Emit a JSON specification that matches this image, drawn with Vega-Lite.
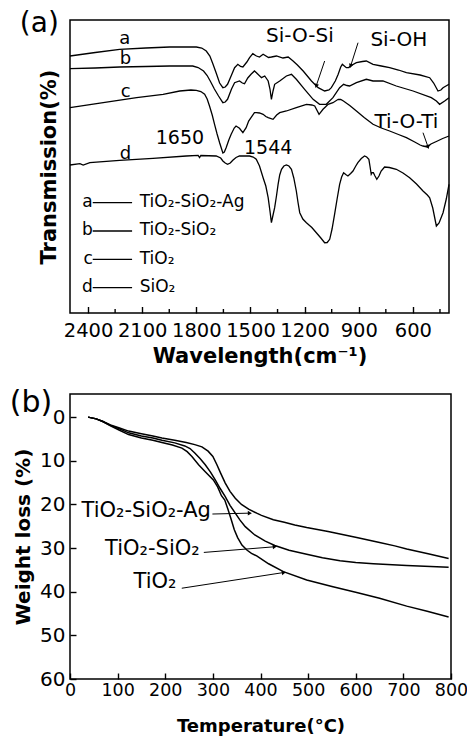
{
  "$schema": "https://vega.github.io/schema/vega-lite/v6.json",
  "padding": {"left": 8, "top": 9, "right": 0, "bottom": 0},
  "config": {
    "font": "DejaVu Sans",
    "view": {"stroke": "black", "strokeWidth": 1.5},
    "axis": {"domain": false, "grid": false, "labelFont": "DejaVu Sans", "titleFont": "DejaVu Sans", "labelColor": "black", "titleColor": "black", "tickColor": "black", "tickWidth": 1.4, "titleFontWeight": "bold", "labelOverlap": false, "labelFlush": false},
    "text": {"font": "DejaVu Sans", "color": "black"},
    "concat": {"spacing": 20}
  },
  "datasets": {
    "ftir": [
      {"s":"a","x":2500,"y":257},{"s":"a","x":2360,"y":260.5},{"s":"a","x":2225,"y":263.7},{"s":"a","x":2080,"y":265},{"s":"a","x":1948,"y":266},{"s":"a","x":1800,"y":266},{"s":"a","x":1770,"y":265},{"s":"a","x":1745,"y":262},{"s":"a","x":1725,"y":257},{"s":"a","x":1708,"y":249},{"s":"a","x":1690,"y":240},{"s":"a","x":1671,"y":230},{"s":"a","x":1653,"y":225.3},{"s":"a","x":1640,"y":226},{"s":"a","x":1627,"y":228.7},{"s":"a","x":1605,"y":238},{"s":"a","x":1588,"y":245.3},{"s":"a","x":1570,"y":248.7},{"s":"a","x":1555,"y":246.5},{"s":"a","x":1542,"y":246},{"s":"a","x":1520,"y":251},{"s":"a","x":1505,"y":255.3},{"s":"a","x":1487,"y":259.3},{"s":"a","x":1467,"y":257},{"s":"a","x":1450,"y":256},{"s":"a","x":1430,"y":258.7},{"s":"a","x":1400,"y":255.5},{"s":"a","x":1384,"y":256},{"s":"a","x":1356,"y":257},{"s":"a","x":1320,"y":255},{"s":"a","x":1291,"y":256},{"s":"a","x":1264,"y":252},{"s":"a","x":1240,"y":248},{"s":"a","x":1208,"y":242},{"s":"a","x":1162,"y":232},{"s":"a","x":1125,"y":225.3},{"s":"a","x":1089,"y":222},{"s":"a","x":1065,"y":223},{"s":"a","x":1052,"y":225.3},{"s":"a","x":1030,"y":232},{"s":"a","x":1014,"y":238.7},{"s":"a","x":1000,"y":246},{"s":"a","x":991,"y":248.7},{"s":"a","x":980,"y":247},{"s":"a","x":969,"y":245.3},{"s":"a","x":955,"y":245.5},{"s":"a","x":947,"y":247},{"s":"a","x":913,"y":250.3},{"s":"a","x":880,"y":251.5},{"s":"a","x":858,"y":252},{"s":"a","x":821,"y":248.7},{"s":"a","x":775,"y":247},{"s":"a","x":729,"y":245.3},{"s":"a","x":680,"y":243},{"s":"a","x":636,"y":240.3},{"s":"a","x":560,"y":238},{"s":"a","x":507,"y":235.3},{"s":"a","x":485,"y":230},{"s":"a","x":461,"y":222},{"s":"a","x":445,"y":223},{"s":"a","x":433,"y":225.3},{"s":"a","x":400,"y":228.7},
      {"s":"b","x":2500,"y":244.3},{"s":"b","x":2360,"y":245},{"s":"b","x":2225,"y":246},{"s":"b","x":2080,"y":246.5},{"s":"b","x":1948,"y":247},{"s":"b","x":1820,"y":247},{"s":"b","x":1790,"y":245.5},{"s":"b","x":1760,"y":242},{"s":"b","x":1740,"y":237.5},{"s":"b","x":1723,"y":232},{"s":"b","x":1700,"y":224},{"s":"b","x":1677,"y":217},{"s":"b","x":1653,"y":210.3},{"s":"b","x":1640,"y":211},{"s":"b","x":1627,"y":213.7},{"s":"b","x":1605,"y":224},{"s":"b","x":1588,"y":230.3},{"s":"b","x":1561,"y":232},{"s":"b","x":1545,"y":230},{"s":"b","x":1533,"y":229.3},{"s":"b","x":1515,"y":235},{"s":"b","x":1497,"y":238.7},{"s":"b","x":1478,"y":242},{"s":"b","x":1467,"y":240.3},{"s":"b","x":1439,"y":235.3},{"s":"b","x":1421,"y":237},{"s":"b","x":1402,"y":232},{"s":"b","x":1392,"y":224},{"s":"b","x":1384,"y":213.7},{"s":"b","x":1375,"y":222},{"s":"b","x":1366,"y":228.7},{"s":"b","x":1338,"y":232},{"s":"b","x":1301,"y":237},{"s":"b","x":1273,"y":238.7},{"s":"b","x":1246,"y":233.7},{"s":"b","x":1200,"y":223.7},{"s":"b","x":1153,"y":213.7},{"s":"b","x":1117,"y":208.7},{"s":"b","x":1080,"y":208.7},{"s":"b","x":1043,"y":215.3},{"s":"b","x":1006,"y":225.3},{"s":"b","x":984,"y":228.7},{"s":"b","x":965,"y":227.5},{"s":"b","x":951,"y":227},{"s":"b","x":913,"y":230.3},{"s":"b","x":858,"y":233.7},{"s":"b","x":821,"y":232},{"s":"b","x":766,"y":232},{"s":"b","x":692,"y":227},{"s":"b","x":599,"y":222},{"s":"b","x":498,"y":215.3},{"s":"b","x":470,"y":212},{"s":"b","x":452,"y":208.7},{"s":"b","x":424,"y":212},{"s":"b","x":400,"y":215.3},
      {"s":"c","x":2500,"y":205.3},{"s":"c","x":2316,"y":210.3},{"s":"c","x":2131,"y":215.3},{"s":"c","x":1984,"y":218.7},{"s":"c","x":1892,"y":222},{"s":"c","x":1830,"y":223},{"s":"c","x":1800,"y":222.7},{"s":"c","x":1775,"y":221.5},{"s":"c","x":1754,"y":218.7},{"s":"c","x":1740,"y":214},{"s":"c","x":1727,"y":207},{"s":"c","x":1712,"y":198},{"s":"c","x":1699,"y":188.7},{"s":"c","x":1685,"y":179},{"s":"c","x":1671,"y":170.3},{"s":"c","x":1660,"y":164},{"s":"c","x":1653,"y":160},{"s":"c","x":1645,"y":161},{"s":"c","x":1635,"y":165.3},{"s":"c","x":1620,"y":173},{"s":"c","x":1607,"y":178.7},{"s":"c","x":1590,"y":185},{"s":"c","x":1580,"y":187},{"s":"c","x":1561,"y":184.7},{"s":"c","x":1542,"y":180.3},{"s":"c","x":1524,"y":185.3},{"s":"c","x":1510,"y":192},{"s":"c","x":1497,"y":195.3},{"s":"c","x":1478,"y":200.3},{"s":"c","x":1467,"y":200.3},{"s":"c","x":1450,"y":200},{"s":"c","x":1430,"y":198.7},{"s":"c","x":1415,"y":196.5},{"s":"c","x":1402,"y":195.3},{"s":"c","x":1375,"y":193.7},{"s":"c","x":1355,"y":198},{"s":"c","x":1338,"y":200.3},{"s":"c","x":1301,"y":202},{"s":"c","x":1246,"y":205.3},{"s":"c","x":1190,"y":208.7},{"s":"c","x":1160,"y":208},{"s":"c","x":1144,"y":207},{"s":"c","x":1120,"y":198.7},{"s":"c","x":1098,"y":203.7},{"s":"c","x":1085,"y":206},{"s":"c","x":1070,"y":208.7},{"s":"c","x":1043,"y":210.3},{"s":"c","x":1014,"y":213.7},{"s":"c","x":1000,"y":213.5},{"s":"c","x":985,"y":212},{"s":"c","x":950,"y":207.5},{"s":"c","x":913,"y":202},{"s":"c","x":870,"y":195.5},{"s":"c","x":821,"y":188.7},{"s":"c","x":775,"y":185},{"s":"c","x":729,"y":182},{"s":"c","x":680,"y":178.5},{"s":"c","x":636,"y":175.3},{"s":"c","x":590,"y":171},{"s":"c","x":560,"y":168},{"s":"c","x":544,"y":167},{"s":"c","x":520,"y":166},{"s":"c","x":500,"y":169},{"s":"c","x":470,"y":171.5},{"s":"c","x":435,"y":174.5},{"s":"c","x":400,"y":177},
      {"s":"d","x":2500,"y":148},{"s":"d","x":2445,"y":149.3},{"s":"d","x":2427,"y":148},{"s":"d","x":2390,"y":150.3},{"s":"d","x":2225,"y":152.7},{"s":"d","x":2040,"y":154.7},{"s":"d","x":1856,"y":157},{"s":"d","x":1790,"y":157.7},{"s":"d","x":1782,"y":155.5},{"s":"d","x":1775,"y":157.5},{"s":"d","x":1690,"y":157},{"s":"d","x":1665,"y":155},{"s":"d","x":1653,"y":152},{"s":"d","x":1640,"y":150},{"s":"d","x":1627,"y":148.7},{"s":"d","x":1612,"y":150},{"s":"d","x":1598,"y":152.7},{"s":"d","x":1580,"y":155.5},{"s":"d","x":1561,"y":157},{"s":"d","x":1505,"y":157},{"s":"d","x":1485,"y":156},{"s":"d","x":1468,"y":153.7},{"s":"d","x":1450,"y":147},{"s":"d","x":1430,"y":135.3},{"s":"d","x":1415,"y":127},{"s":"d","x":1402,"y":115.3},{"s":"d","x":1392,"y":102},{"s":"d","x":1384,"y":90.3},{"s":"d","x":1375,"y":98},{"s":"d","x":1366,"y":105.3},{"s":"d","x":1356,"y":117},{"s":"d","x":1347,"y":128.7},{"s":"d","x":1338,"y":138},{"s":"d","x":1328,"y":143.7},{"s":"d","x":1315,"y":147},{"s":"d","x":1301,"y":148},{"s":"d","x":1287,"y":147},{"s":"d","x":1273,"y":143.7},{"s":"d","x":1260,"y":135},{"s":"d","x":1246,"y":122},{"s":"d","x":1237,"y":111},{"s":"d","x":1227,"y":100.3},{"s":"d","x":1210,"y":94},{"s":"d","x":1190,"y":90.3},{"s":"d","x":1160,"y":85.5},{"s":"d","x":1135,"y":80.3},{"s":"d","x":1110,"y":75},{"s":"d","x":1089,"y":70.3},{"s":"d","x":1075,"y":70.5},{"s":"d","x":1061,"y":73.7},{"s":"d","x":1048,"y":84},{"s":"d","x":1034,"y":98.7},{"s":"d","x":1020,"y":114},{"s":"d","x":1006,"y":128.7},{"s":"d","x":995,"y":136},{"s":"d","x":984,"y":140.3},{"s":"d","x":972,"y":138.5},{"s":"d","x":960,"y":137},{"s":"d","x":945,"y":139.5},{"s":"d","x":932,"y":142},{"s":"d","x":918,"y":146.5},{"s":"d","x":905,"y":150.3},{"s":"d","x":886,"y":154.5},{"s":"d","x":868,"y":157},{"s":"d","x":856,"y":156},{"s":"d","x":844,"y":153.7},{"s":"d","x":838,"y":147},{"s":"d","x":831,"y":138.7},{"s":"d","x":826,"y":140.3},{"s":"d","x":819,"y":140.3},{"s":"d","x":810,"y":137},{"s":"d","x":800,"y":133.7},{"s":"d","x":788,"y":137},{"s":"d","x":776,"y":142},{"s":"d","x":757,"y":146},{"s":"d","x":730,"y":145.5},{"s":"d","x":692,"y":143.7},{"s":"d","x":655,"y":140},{"s":"d","x":618,"y":135.3},{"s":"d","x":580,"y":129},{"s":"d","x":544,"y":122},{"s":"d","x":520,"y":118},{"s":"d","x":507,"y":115.3},{"s":"d","x":490,"y":105},{"s":"d","x":470,"y":87},{"s":"d","x":455,"y":90},{"s":"d","x":433,"y":100.3},{"s":"d","x":415,"y":114},{"s":"d","x":400,"y":128.7}
    ],
    "tga": [
      {"s":"ag","x":38,"y":0},{"s":"ag","x":55,"y":0.4},{"s":"ag","x":69,"y":1.0},{"s":"ag","x":85,"y":1.8},{"s":"ag","x":104,"y":2.5},{"s":"ag","x":123,"y":3.2},{"s":"ag","x":150,"y":3.8},{"s":"ag","x":174,"y":4.3},{"s":"ag","x":193,"y":4.8},{"s":"ag","x":220,"y":5.3},{"s":"ag","x":244,"y":5.8},{"s":"ag","x":262,"y":6.3},{"s":"ag","x":277,"y":6.8},{"s":"ag","x":290,"y":7.8},{"s":"ag","x":300,"y":9.0},{"s":"ag","x":308,"y":10.8},{"s":"ag","x":317,"y":13.0},{"s":"ag","x":326,"y":15.1},{"s":"ag","x":336,"y":17.0},{"s":"ag","x":347,"y":18.6},{"s":"ag","x":360,"y":20.0},{"s":"ag","x":375,"y":21.1},{"s":"ag","x":392,"y":22.0},{"s":"ag","x":402,"y":22.5},{"s":"ag","x":427,"y":23.5},{"s":"ag","x":450,"y":24.1},{"s":"ag","x":472,"y":24.7},{"s":"ag","x":497,"y":25.3},{"s":"ag","x":542,"y":26.2},{"s":"ag","x":602,"y":27.6},{"s":"ag","x":650,"y":28.7},{"s":"ag","x":682,"y":29.5},{"s":"ag","x":707,"y":30.2},{"s":"ag","x":752,"y":31.3},{"s":"ag","x":795,"y":32.4},
      {"s":"ts","x":38,"y":0},{"s":"ts","x":55,"y":0.4},{"s":"ts","x":69,"y":1.0},{"s":"ts","x":85,"y":1.9},{"s":"ts","x":104,"y":2.7},{"s":"ts","x":123,"y":3.6},{"s":"ts","x":150,"y":4.3},{"s":"ts","x":174,"y":4.8},{"s":"ts","x":193,"y":5.3},{"s":"ts","x":220,"y":5.9},{"s":"ts","x":241,"y":6.6},{"s":"ts","x":252,"y":7.2},{"s":"ts","x":262,"y":8.2},{"s":"ts","x":273,"y":9.5},{"s":"ts","x":284,"y":10.9},{"s":"ts","x":295,"y":12.6},{"s":"ts","x":305,"y":14.4},{"s":"ts","x":315,"y":16.3},{"s":"ts","x":326,"y":18.2},{"s":"ts","x":336,"y":20.2},{"s":"ts","x":347,"y":22.0},{"s":"ts","x":357,"y":23.6},{"s":"ts","x":368,"y":25.1},{"s":"ts","x":388,"y":27.0},{"s":"ts","x":410,"y":28.4},{"s":"ts","x":430,"y":29.4},{"s":"ts","x":460,"y":30.5},{"s":"ts","x":497,"y":31.4},{"s":"ts","x":530,"y":32.2},{"s":"ts","x":567,"y":32.9},{"s":"ts","x":600,"y":33.3},{"s":"ts","x":637,"y":33.6},{"s":"ts","x":707,"y":34.0},{"s":"ts","x":795,"y":34.4},
      {"s":"t","x":38,"y":0},{"s":"t","x":55,"y":0.4},{"s":"t","x":69,"y":1.0},{"s":"t","x":85,"y":2.0},{"s":"t","x":104,"y":3.0},{"s":"t","x":123,"y":4.0},{"s":"t","x":150,"y":4.8},{"s":"t","x":174,"y":5.3},{"s":"t","x":193,"y":5.8},{"s":"t","x":215,"y":6.4},{"s":"t","x":235,"y":7.1},{"s":"t","x":246,"y":7.9},{"s":"t","x":256,"y":9.0},{"s":"t","x":270,"y":10.9},{"s":"t","x":284,"y":12.5},{"s":"t","x":301,"y":14.4},{"s":"t","x":310,"y":16.0},{"s":"t","x":318,"y":18.0},{"s":"t","x":325,"y":19.0},{"s":"t","x":332,"y":21.2},{"s":"t","x":338,"y":23.3},{"s":"t","x":345,"y":25.8},{"s":"t","x":352,"y":27.6},{"s":"t","x":361,"y":29.3},{"s":"t","x":372,"y":30.5},{"s":"t","x":381,"y":31.2},{"s":"t","x":392,"y":31.8},{"s":"t","x":417,"y":33.6},{"s":"t","x":448,"y":35.4},{"s":"t","x":497,"y":37.3},{"s":"t","x":550,"y":38.8},{"s":"t","x":602,"y":40.2},{"s":"t","x":650,"y":41.5},{"s":"t","x":707,"y":43.3},{"s":"t","x":750,"y":44.5},{"s":"t","x":795,"y":45.8}
    ],
    "minorA": [{"x":2250},{"x":1950},{"x":1650},{"x":1350},{"x":1050},{"x":750},{"x":450}],
    "lettersA": [
      {"t":"a","x":2196,"y":268.7},{"t":"b","x":2192,"y":249},{"t":"c","x":2192,"y":216},{"t":"d","x":2192,"y":154}
    ],
    "peaksA": [
      {"t":"Si-O-Si","x":1226,"y":271.3},{"t":"Si-OH","x":678,"y":267},{"t":"Ti-O-Ti","x":636,"y":185.3}
    ],
    "numsA": [
      {"t":"1650","x":1891,"y":168.7},{"t":"1544","x":1402,"y":158.7}
    ],
    "legendA": [
      {"k":"a","name":"TiO₂-SiO₂-Ag","x":2374,"x2":2156,"xt":2114,"y":110.3,"yt":106},
      {"k":"b","name":"TiO₂-SiO₂","x":2374,"x2":2156,"xt":2114,"y":82,"yt":77.7},
      {"k":"c","name":"TiO₂","x":2374,"x2":2156,"xt":2114,"y":53.7,"yt":49.3},
      {"k":"d","name":"SiO₂","x":2374,"x2":2156,"xt":2114,"y":25.3,"yt":21}
    ],
    "arrowsA": [
      {"id":"sios","x":1089,"y":252,"x2":1136,"y2":227},
      {"id":"sioh","x":904,"y":270.3,"x2":945,"y2":247},
      {"id":"tioti","x":544,"y":180.3,"x2":516,"y2":166}
    ],
    "arrowsB": [
      {"id":"ag","x":299,"y":22.2,"x2":377.6,"y2":22.0},
      {"id":"ts","x":281,"y":31.0,"x2":430,"y2":29.7},
      {"id":"t","x":234.7,"y":39.2,"x2":449,"y2":35.6}
    ],
    "labelsB": [
      {"t":"TiO₂-SiO₂-Ag","x":160,"y":22.8},{"t":"TiO₂-SiO₂","x":173,"y":31.6},{"t":"TiO₂","x":178.5,"y":39.2}
    ],
    "panelA": [{"t":"(a)","x":2778,"y":281}],
    "panelB": [{"t":"(b)","x":-126.6,"y":-1.2}]
  },
  "vconcat": [
    {
      "width": 379,
      "height": 293,
      "layer": [
        {
          "data": {"name": "ftir"},
          "mark": {"type": "line", "color": "black", "strokeWidth": 1.3},
          "encoding": {
            "x": {"field": "x", "type": "quantitative", "scale": {"domain": [400, 2500], "reverse": true, "nice": false, "zero": false},
              "axis": {"title": "Wavelength(cm⁻¹)", "titleFontSize": 21, "titlePadding": 5, "labelFontSize": 19.5, "labelPadding": 15, "format": "d",
                "values": [2400, 2100, 1800, 1500, 1200, 900, 600], "tickSize": -6.5}},
            "y": {"field": "y", "type": "quantitative", "scale": {"domain": [0, 293], "nice": false, "zero": false},
              "axis": {"title": "Transmission(%)", "titleFontSize": 21, "labels": false, "ticks": false, "titlePadding": 11}},
            "detail": {"field": "s"}
          }
        },
        {
          "data": {"name": "minorA"},
          "mark": {"type": "rule", "color": "black", "strokeWidth": 1.4},
          "encoding": {"x": {"field": "x", "type": "quantitative"}, "y": {"datum": 0}, "y2": {"datum": 4}}
        },
        {
          "data": {"name": "lettersA"},
          "mark": {"type": "text", "fontSize": 18, "align": "center", "baseline": "alphabetic"},
          "encoding": {"x": {"field": "x", "type": "quantitative"}, "y": {"field": "y", "type": "quantitative"}, "text": {"field": "t"}}
        },
        {
          "data": {"name": "peaksA"},
          "mark": {"type": "text", "fontSize": 20, "align": "center", "baseline": "alphabetic"},
          "encoding": {"x": {"field": "x", "type": "quantitative"}, "y": {"field": "y", "type": "quantitative"}, "text": {"field": "t"}}
        },
        {
          "data": {"name": "numsA"},
          "mark": {"type": "text", "fontSize": 19, "align": "center", "baseline": "alphabetic"},
          "encoding": {"x": {"field": "x", "type": "quantitative"}, "y": {"field": "y", "type": "quantitative"}, "text": {"field": "t"}}
        },
        {
          "data": {"name": "legendA"},
          "mark": {"type": "rule", "color": "black", "strokeWidth": 1.3},
          "encoding": {"x": {"field": "x", "type": "quantitative"}, "x2": {"field": "x2"}, "y": {"field": "y", "type": "quantitative"}}
        },
        {
          "data": {"name": "legendA"},
          "mark": {"type": "text", "fontSize": 17, "align": "right", "baseline": "alphabetic"},
          "encoding": {"x": {"field": "x", "type": "quantitative"}, "y": {"field": "yt", "type": "quantitative"}, "text": {"field": "k"}}
        },
        {
          "data": {"name": "legendA"},
          "mark": {"type": "text", "fontSize": 17, "align": "left", "baseline": "alphabetic"},
          "encoding": {"x": {"field": "xt", "type": "quantitative"}, "y": {"field": "yt", "type": "quantitative"}, "text": {"field": "name"}}
        },
        {
          "data": {"name": "arrowsA"},
          "mark": {"type": "rule", "color": "black", "strokeWidth": 1},
          "encoding": {"x": {"field": "x", "type": "quantitative"}, "y": {"field": "y", "type": "quantitative"}, "x2": {"field": "x2"}, "y2": {"field": "y2"}}
        },
        {
          "data": {"name": "arrowsA"},
          "transform": [{"filter": "datum.id === 'sios'"}],
          "mark": {"type": "point", "shape": "triangle-down", "filled": true, "color": "black", "size": 22, "angle": 18, "opacity": 1},
          "encoding": {"x": {"field": "x2", "type": "quantitative"}, "y": {"field": "y2", "type": "quantitative"}}
        },
        {
          "data": {"name": "arrowsA"},
          "transform": [{"filter": "datum.id === 'sioh'"}],
          "mark": {"type": "point", "shape": "triangle-down", "filled": true, "color": "black", "size": 22, "angle": 18, "opacity": 1},
          "encoding": {"x": {"field": "x2", "type": "quantitative"}, "y": {"field": "y2", "type": "quantitative"}}
        },
        {
          "data": {"name": "arrowsA"},
          "transform": [{"filter": "datum.id === 'tioti'"}],
          "mark": {"type": "point", "shape": "triangle-down", "filled": true, "color": "black", "size": 22, "angle": 341, "opacity": 1},
          "encoding": {"x": {"field": "x2", "type": "quantitative"}, "y": {"field": "y2", "type": "quantitative"}}
        },
        {
          "data": {"name": "panelA"},
          "mark": {"type": "text", "fontSize": 28, "align": "left", "baseline": "alphabetic"},
          "encoding": {"x": {"field": "x", "type": "quantitative"}, "y": {"field": "y", "type": "quantitative"}, "text": {"field": "t"}}
        }
      ]
    },
    {
      "width": 381,
      "height": 285,
      "layer": [
        {
          "data": {"name": "tga"},
          "mark": {"type": "line", "color": "black", "strokeWidth": 1.5},
          "encoding": {
            "x": {"field": "x", "type": "quantitative", "scale": {"domain": [0, 800], "nice": false, "zero": false},
              "axis": {"title": "Temperature(°C)", "titleFontSize": 18, "titlePadding": 19, "labelFontSize": 17.5, "labelPadding": 8,
                "values": [0, 50, 100, 150, 200, 250, 300, 350, 400, 450, 500, 550, 600, 650, 700, 750, 800],
                "labelExpr": "datum.value % 100 === 0 ? datum.label : ''",
                "tickSize": {"condition": {"test": "datum.value % 100 === 0", "value": -6}, "value": -3.5}}},
            "y": {"field": "y", "type": "quantitative", "scale": {"domain": [-5.3, 60], "reverse": true, "nice": false, "zero": false},
              "axis": {"title": "Weight loss (%)", "titleFontSize": 20, "titlePadding": 6, "labelFontSize": 20, "labelPadding": 11,
                "values": [0, 5, 10, 15, 20, 25, 30, 35, 40, 45, 50, 55, 60],
                "labelExpr": "datum.value % 10 === 0 ? datum.label : ''",
                "tickSize": {"condition": {"test": "datum.value % 10 === 0", "value": -6}, "value": -3.5}}},
            "detail": {"field": "s"}
          }
        },
        {
          "data": {"name": "labelsB"},
          "mark": {"type": "text", "fontSize": 21, "align": "center", "baseline": "alphabetic"},
          "encoding": {"x": {"field": "x", "type": "quantitative"}, "y": {"field": "y", "type": "quantitative"}, "text": {"field": "t"}}
        },
        {
          "data": {"name": "arrowsB"},
          "mark": {"type": "rule", "color": "black", "strokeWidth": 1},
          "encoding": {"x": {"field": "x", "type": "quantitative"}, "y": {"field": "y", "type": "quantitative"}, "x2": {"field": "x2"}, "y2": {"field": "y2"}}
        },
        {
          "data": {"name": "arrowsB"},
          "transform": [{"filter": "datum.id === 'ag'"}],
          "mark": {"type": "point", "shape": "triangle-right", "filled": true, "color": "black", "size": 22, "angle": 0, "opacity": 1},
          "encoding": {"x": {"field": "x2", "type": "quantitative"}, "y": {"field": "y2", "type": "quantitative"}}
        },
        {
          "data": {"name": "arrowsB"},
          "transform": [{"filter": "datum.id === 'ts'"}],
          "mark": {"type": "point", "shape": "triangle-right", "filled": true, "color": "black", "size": 22, "angle": 355, "opacity": 1},
          "encoding": {"x": {"field": "x2", "type": "quantitative"}, "y": {"field": "y2", "type": "quantitative"}}
        },
        {
          "data": {"name": "arrowsB"},
          "transform": [{"filter": "datum.id === 't'"}],
          "mark": {"type": "point", "shape": "triangle-right", "filled": true, "color": "black", "size": 22, "angle": 351, "opacity": 1},
          "encoding": {"x": {"field": "x2", "type": "quantitative"}, "y": {"field": "y2", "type": "quantitative"}}
        },
        {
          "data": {"name": "panelB"},
          "mark": {"type": "text", "fontSize": 30, "align": "left", "baseline": "alphabetic"},
          "encoding": {"x": {"field": "x", "type": "quantitative"}, "y": {"field": "y", "type": "quantitative"}, "text": {"field": "t"}}
        }
      ]
    }
  ]
}
